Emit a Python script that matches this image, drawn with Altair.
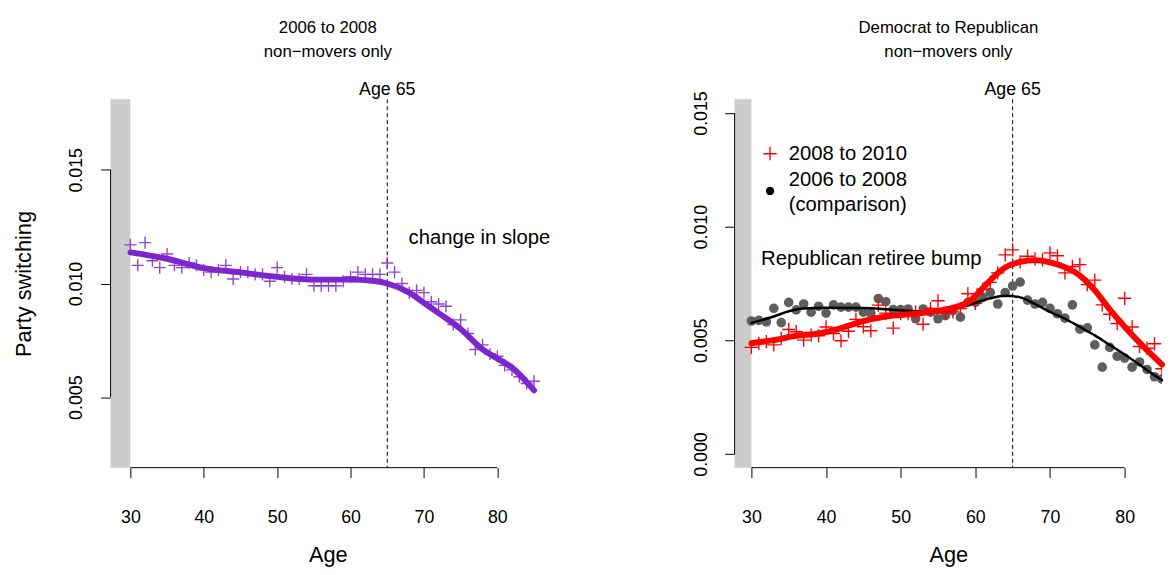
import altair as alt
import pandas as pd

# ---------------- data ----------------
ages = list(range(30, 86))

# left panel: 2006 to 2008, non-movers (purple crosses)
left_vals = [0.0117, 0.0108, 0.0118, 0.0110, 0.0107, 0.0113, 0.0108, 0.0107, 0.0109, 0.0108,
             0.0106, 0.0105, 0.0106, 0.0108, 0.0102, 0.0105, 0.0105, 0.0104, 0.0104, 0.0101,
             0.0107, 0.0103, 0.0102, 0.0102, 0.0104, 0.0099, 0.0099, 0.0099, 0.0099, 0.0101,
             0.0103, 0.0105, 0.0104, 0.0104, 0.0104, 0.0109, 0.0105, 0.0100, 0.0096, 0.0097,
             0.0096, 0.0092, 0.0091, 0.0090, 0.0082, 0.0084, 0.0078, 0.0071, 0.0073, 0.0069,
             0.0068, 0.0064, 0.0062, 0.0059, 0.0056, 0.0057]
left_smooth_age = [30, 35, 40, 45, 50, 55, 60, 63, 65, 68, 70, 72, 75, 78, 80, 82, 85]
left_smooth_val = [0.01137, 0.01109, 0.01068, 0.01049, 0.01029, 0.01017, 0.01017, 0.01012,
                   0.01000, 0.00960, 0.00915, 0.00870, 0.00800, 0.00710, 0.00670, 0.00630, 0.00530]

# right panel: Democrat to Republican
red_vals = [0.00469, 0.00487, 0.00494, 0.00480, 0.00509, 0.00548, 0.00538, 0.00501, 0.00523, 0.00520,
            0.00559, 0.00530, 0.00498, 0.00540, 0.00592, 0.00560, 0.00542, 0.00655, 0.00620, 0.00554,
            0.00617, 0.00617, 0.00625, 0.00571, 0.00640, 0.00674, 0.00620, 0.00625, 0.00640, 0.00705,
            0.00663, 0.00725, 0.00755, 0.00797, 0.00876, 0.00898, 0.00845, 0.00870, 0.00858, 0.00854,
            0.00885, 0.00872, 0.00797, 0.00825, 0.00833, 0.00745, 0.00765, 0.00656, 0.00615, 0.00574,
            0.00685, 0.00559, 0.00473, 0.00465, 0.00485, 0.00375]
grey_vals = [0.00585, 0.00588, 0.00581, 0.00641, 0.00578, 0.00667, 0.00634, 0.00660, 0.00624, 0.00650,
             0.00620, 0.00656, 0.00646, 0.00646, 0.00646, 0.00624, 0.00620, 0.00684, 0.00670, 0.00635,
             0.00635, 0.00638, 0.00595, 0.00638, 0.00624, 0.00595, 0.00609, 0.00631, 0.00602, 0.00667,
             0.00667, 0.00689, 0.00710, 0.00660, 0.00710, 0.00739, 0.00756, 0.00677, 0.00660, 0.00667,
             0.00641, 0.00617, 0.00598, 0.00656, 0.00549, 0.00555, 0.00480, 0.00382, 0.00469, 0.00430,
             0.00422, 0.00382, 0.00405, 0.00372, 0.00340, 0.00330]
red_smooth_age = [30, 33, 36, 39, 42, 45, 48, 52, 56, 59, 61, 63, 64, 66, 68, 70, 72, 74, 76, 78, 80, 82, 84, 85]
red_smooth_val = [0.00487, 0.00501, 0.00520, 0.00530, 0.00554, 0.00585, 0.00605, 0.00617, 0.00636,
                  0.00667, 0.00730, 0.00795, 0.00820, 0.00845, 0.00853, 0.00843, 0.00822, 0.00785,
                  0.00720, 0.00636, 0.00560, 0.00490, 0.00425, 0.00393]
grey_smooth_age = [30, 33, 35, 37, 40, 45, 50, 55, 58, 60, 62, 64, 66, 68, 70, 72, 74, 76, 78, 80, 82, 84, 85]
grey_smooth_val = [0.00577, 0.00605, 0.00628, 0.00640, 0.00643, 0.00642, 0.00632, 0.00626, 0.00645,
                   0.00665, 0.00685, 0.00696, 0.00689, 0.00660, 0.00625, 0.00595, 0.00559, 0.00522,
                   0.00480, 0.00438, 0.00393, 0.00347, 0.00325]

left_yticks = [0.005, 0.010, 0.015]
right_yticks = [0.000, 0.005, 0.010, 0.015]
xticks = [30, 40, 50, 60, 70, 80]

FONT = "Liberation Sans"
PURPLE = "#7D26CD"
RED = "#FF0000"
GREY = "#5E5E5E"
PLUS = "M-1,0H1M0,-1V1"

W_L, W_R, H = 440, 433, 373
LX = [27.3, 86.5]
RX = [27.75, 27.75 + W_R / 7.56]
LY = [0.0019, 0.0181]
RY = [-0.0006, 0.0156]


def xaxis():
    return alt.Axis(values=xticks, domain=False, tickSize=10, tickColor="black",
                    labelFontSize=18, labelPadding=32, title="Age",
                    titleFontSize=22, titleFontWeight="normal", titlePadding=18,
                    labelFont=FONT, titleFont=FONT, labelColor="black", titleColor="black",
                    grid=False)


def yaxis(vals, title, pad):
    kw = dict(values=vals, format=".3f", domain=False, tickSize=10, tickColor="black",
              labelFontSize=18, labelAngle=270, labelAlign="center", labelBaseline="bottom",
              labelPadding=pad, labelFont=FONT, labelColor="black", grid=False)
    if title:
        kw.update(title=title, titleFontSize=22, titleFontWeight="normal", titleFont=FONT,
                  titleColor="black", titleAngle=270, titleX=-88, titleY=H / 2,
                  titleAlign="center", titleBaseline="middle")
    else:
        kw.update(title=None)
    return alt.Axis(**kw)


def panel(xdom, ydom, width, yvals, ytitle, ypad, title_lines, point_layers, line_layers, texts):
    xs = alt.Scale(domain=xdom, nice=False, zero=False)
    ys = alt.Scale(domain=ydom, nice=False, zero=False)

    band = alt.Chart(pd.DataFrame({"lo": [xdom[0]], "hi": [30]})).mark_rect(color="#CCCCCC").encode(
        x=alt.X("lo:Q", scale=xs, axis=xaxis()), x2="hi:Q",
        y=alt.value(0), y2=alt.value(H))

    yaxis_layer = alt.Chart(pd.DataFrame({"a": [yvals[0]], "b": [yvals[-1]]})).mark_rule(
        color="black", strokeWidth=1).encode(
        x=alt.value(0), y=alt.Y("a:Q", scale=ys, axis=yaxis(yvals, ytitle, ypad)), y2="b:Q")

    xaxis_layer = alt.Chart(pd.DataFrame({"a": [xticks[0]], "b": [xticks[-1]]})).mark_rule(
        color="black", strokeWidth=1).encode(
        x=alt.X("a:Q", scale=xs), x2="b:Q", y=alt.value(H))

    rule65 = alt.Chart(pd.DataFrame({"age": [65]})).mark_rule(
        color="black", strokeDash=[4, 3], strokeWidth=1).encode(x=alt.X("age:Q", scale=xs))

    lbl65 = alt.Chart(pd.DataFrame({"age": [65], "t": ["Age 65"]})).mark_text(
        font=FONT, fontSize=18, baseline="middle", align="center", color="black").encode(
        x=alt.X("age:Q", scale=xs), y=alt.value(-9), text="t:N")

    layers = [band, yaxis_layer, xaxis_layer, rule65, lbl65]
    for pl in point_layers:
        layers.append(pl(xs, ys))
    for ll in line_layers:
        layers.append(ll(xs, ys))
    for tl in texts:
        layers.append(tl(xs, ys))

    return alt.layer(*layers).properties(
        width=width, height=H,
        title=alt.TitleParams(text=title_lines, fontSize=17, font=FONT, fontWeight="normal",
                              color="black", anchor="middle", offset=21, lineHeight=24))


df_left = pd.DataFrame({"age": ages, "v": left_vals})
df_ls = pd.DataFrame({"age": left_smooth_age, "v": left_smooth_val})
df_red = pd.DataFrame({"age": ages, "v": red_vals})
df_grey = pd.DataFrame({"age": ages, "v": grey_vals})
df_rs = pd.DataFrame({"age": red_smooth_age, "v": red_smooth_val})
df_gs = pd.DataFrame({"age": grey_smooth_age, "v": grey_smooth_val})


def crosses(df, color, opacity, size):
    def f(xs, ys):
        return alt.Chart(df).mark_point(shape=PLUS, filled=False, color=color, strokeWidth=1.4,
                                        size=size, opacity=opacity, clip=True).encode(
            x=alt.X("age:Q", scale=xs), y=alt.Y("v:Q", scale=ys))
    return f


def dots(df, color, size):
    def f(xs, ys):
        return alt.Chart(df).mark_circle(color=color, size=size, opacity=1, clip=True).encode(
            x=alt.X("age:Q", scale=xs), y=alt.Y("v:Q", scale=ys))
    return f


def smooth(df, color, width):
    def f(xs, ys):
        return alt.Chart(df).mark_line(color=color, strokeWidth=width, interpolate="monotone",
                                       strokeCap="round").encode(
            x=alt.X("age:Q", scale=xs), y=alt.Y("v:Q", scale=ys))
    return f


def text(df, size=20.5, align="left"):
    def f(xs, ys):
        return alt.Chart(df).mark_text(font=FONT, fontSize=size, align=align, baseline="middle",
                                       color="black").encode(
            x=alt.X("age:Q", scale=xs), y=alt.Y("v:Q", scale=ys), text="t:N")
    return f


left = panel(LX, LY, W_L, left_yticks, "Party switching", 15,
             ["2006 to 2008", "non\u2212movers only"],
             [crosses(df_left, PURPLE, 0.85, 150)],
             [smooth(df_ls, PURPLE, 6)],
             [text(pd.DataFrame({"age": [67.9], "v": [0.0120], "t": ["change in slope"]}))])

legend_sym_red = pd.DataFrame({"age": [32.5], "v": [0.01321]})
legend_sym_blk = pd.DataFrame({"age": [32.5], "v": [0.01157]})
legend_txt = pd.DataFrame({"age": [35.0, 35.0, 35.0], "v": [0.01321, 0.01205, 0.01096],
                           "t": ["2008 to 2010", "2006 to 2008", "(comparison)"]})

right = panel(RX, RY, W_R, right_yticks, None, 14,
              ["Democrat to Republican", "non\u2212movers only"],
              [dots(df_grey, GREY, 95), crosses(df_red, RED, 1.0, 180),
               crosses(legend_sym_red, RED, 1.0, 180), dots(legend_sym_blk, "black", 70)],
              [smooth(df_gs, "black", 2.5), smooth(df_rs, RED, 6)],
              [text(pd.DataFrame({"age": [31.3], "v": [0.00859], "t": ["Republican retiree bump"]})),
               text(legend_txt)])

chart = alt.hconcat(left, right, spacing=192, bounds="flush").configure_view(
    stroke=None).properties(padding={"left": 13, "top": 16, "right": 0, "bottom": 0})

chart.save("out.html", embed_options={"renderer": "svg", "actions": False})
